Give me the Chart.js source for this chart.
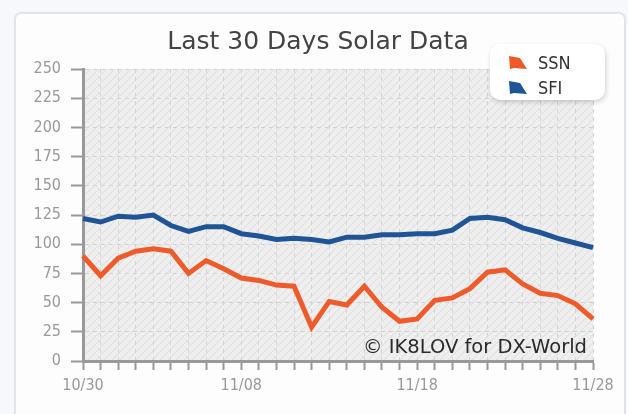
<!DOCTYPE html>
<html>
<head>
<meta charset="utf-8">
<title>Last 30 Days Solar Data</title>
<script src="https://cdn.jsdelivr.net/npm/chart.js@4/dist/chart.umd.min.js"></script>
<style>
  html, body { margin: 0; padding: 0; background: #f7f8fb; }
  #wrap { position: relative; width: 628px; height: 414px; overflow: hidden; }
  #card {
    position: absolute; left: 14px; top: 12px; width: 608px; height: 420px;
    background: #fdfdfe; border: 2px solid #e4e4e6; border-radius: 7px;
  }
  #solarChart { position: absolute; left: 0; top: 0; }
</style>
</head>
<body>
<div id="wrap">
  <div id="card"></div>
  <canvas id="solarChart" width="628" height="414"></canvas>
</div>
<script>
// day labels, 10/30 .. 11/28
const days = ['10/30','10/31','11/01','11/02','11/03','11/04','11/05','11/06','11/07','11/08',
              '11/09','11/10','11/11','11/12','11/13','11/14','11/15','11/16','11/17','11/18',
              '11/19','11/20','11/21','11/22','11/23','11/24','11/25','11/26','11/27','11/28'];
const shownDays = ['10/30', '11/08', '11/18', '11/28'];

// sunspot number
const ssn = [90, 73, 88, 94, 96, 94, 75, 86, 79, 71,
             69, 65, 64, 29, 51, 48, 64, 46, 34, 36,
             52, 54, 62, 76, 78, 66, 58, 56, 49, 36];
// solar flux index
const sfi = [122, 119, 124, 123, 125, 116, 111, 115, 115, 109,
             107, 104, 105, 104, 102, 106, 106, 108, 108, 109,
             109, 112, 122, 123, 121, 114, 110, 105, 101, 97];

const yTicks = [0, 25, 50, 75, 100, 125, 150, 175, 200, 225, 250];

const chartTitle = 'Last 30 Days Solar Data';
const watermark = '\u00A9 IK8LOV for DX-World';

const tickFont = { family: 'DejaVu Sans Condensed', size: 16 };

// hatched plot background
function makeHatch() {
    const c = document.createElement('canvas');
    c.width = 8; c.height = 8;
    const g = c.getContext('2d');
    g.fillStyle = '#efefef';
    g.fillRect(0, 0, 8, 8);
    g.strokeStyle = '#e1e1e1';
    g.lineWidth = 1.2;
    g.beginPath();
    g.moveTo(-2, 10); g.lineTo(10, -2);
    g.moveTo(-2, 2); g.lineTo(2, -2);
    g.moveTo(6, 10); g.lineTo(10, 6);
    g.stroke();
    return c;
}

const plotBg = {
    id: 'plotBg',
    beforeDraw(chart) {
        const { ctx, chartArea: a } = chart;
        ctx.save();
        ctx.fillStyle = ctx.createPattern(makeHatch(), 'repeat');
        ctx.fillRect(a.left, a.top, a.right - a.left, a.bottom - a.top);
        ctx.restore();
    }
};

// title, legend box and watermark
const extras = {
    id: 'extras',
    afterDraw(chart) {
        const ctx = chart.ctx;
        const a = chart.chartArea;
        ctx.save();
        ctx.font = '25px "DejaVu Sans"';
        ctx.fillStyle = '#444';
        ctx.textAlign = 'center';
        ctx.textBaseline = 'middle';
        ctx.fillText(chartTitle, 318, 42);

        ctx.font = '19.5px "DejaVu Sans"';
        ctx.fillStyle = '#2a2a2a';
        ctx.textAlign = 'right';
        ctx.textBaseline = 'alphabetic';
        ctx.fillText(watermark, a.right - 6, a.bottom - 8);

        const bx = 490, by = 44, bw = 115, bh = 56;
        ctx.shadowColor = 'rgba(0,0,0,0.18)';
        ctx.shadowBlur = 5;
        ctx.shadowOffsetX = 1;
        ctx.shadowOffsetY = 2;
        ctx.fillStyle = '#ffffff';
        ctx.beginPath();
        ctx.roundRect(bx, by, bw, bh, 10);
        ctx.fill();
        ctx.shadowColor = 'transparent';

        ctx.textAlign = 'left';
        ctx.textBaseline = 'middle';
        ctx.font = '18px "DejaVu Sans Condensed"';
        chart.data.datasets.forEach((ds, i) => {
            const y = by + 19 + i * 25;
            ctx.fillStyle = ds.borderColor;
            ctx.beginPath();
            ctx.moveTo(509, y - 7);
            ctx.lineTo(520, y - 5);
            ctx.lineTo(527, y + 6);
            ctx.lineTo(514, y + 5);
            ctx.lineTo(510, y + 6);
            ctx.closePath();
            ctx.fill();
            ctx.fillStyle = '#333';
            ctx.fillText(ds.label, 538, y + 1);
        });
        ctx.restore();
    }
};

const ctx = document.getElementById('solarChart').getContext('2d');
const solarChart = new Chart(ctx, {
    type: 'line',
    data: {
        labels: days,
        datasets: [{
            label: 'SSN',
            data: ssn,
            borderColor: '#f05a2a',
            borderWidth: 5,
            pointRadius: 0,
            tension: 0,
            fill: false
        }, {
            label: 'SFI',
            data: sfi,
            borderColor: '#1f5596',
            borderWidth: 5,
            pointRadius: 0,
            tension: 0,
            fill: false
        }]
    },
    options: {
        responsive: false,
        animation: false,
        layout: { padding: { top: 69, right: 35, left: 0, bottom: 0 } },
        plugins: {
            legend: { display: false },
            tooltip: { enabled: false },
            title: { display: false }
        },
        scales: {
            x: {
                offset: false,
                afterFit(scale) { scale.height = 53; },
                grid: {
                    color: '#d2d2d2',
                    lineWidth: 1,
                    tickColor: '#999',
                    tickLength: 9,
                    tickWidth: 2,
                    tickBorderDash: []
                },
                border: { color: '#999', width: 3, dash: [4, 4] },
                ticks: {
                    autoSkip: false,
                    maxRotation: 0,
                    color: '#999',
                    font: tickFont,
                    padding: 6,
                    callback(v, i) {
                        const d = days[i];
                        return shownDays.includes(d) ? d : '';
                    }
                }
            },
            y: {
                min: 0,
                max: 250,
                afterFit(scale) { scale.width = 83; },
                afterBuildTicks(scale) { scale.ticks = yTicks.map(v => ({ value: v })); },
                grid: {
                    color: '#d2d2d2',
                    lineWidth: 1,
                    tickColor: '#999',
                    tickLength: 12,
                    tickWidth: 2,
                    tickBorderDash: []
                },
                border: { color: '#999', width: 3, dash: [4, 4] },
                ticks: {
                    color: '#999',
                    font: tickFont,
                    padding: 10
                }
            }
        }
    },
    plugins: [plotBg, extras]
});
</script>
</body>
</html>
